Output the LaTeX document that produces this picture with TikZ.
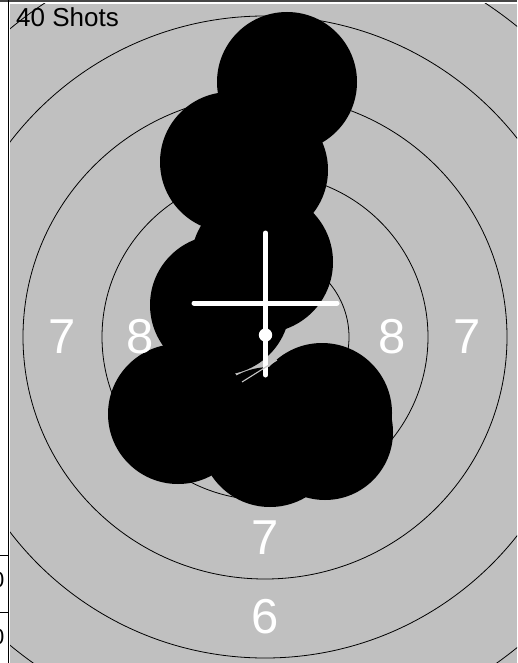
\documentclass[tikz,border=0pt]{standalone}
\usepackage{fontspec}
\setmainfont{Liberation Sans}
\definecolor{tgray}{RGB}{192,192,192}
\definecolor{topline}{RGB}{70,70,70}
\tikzset{
  ring/.style={draw=black,line width=0.8pt},
  shot/.style={fill=black},
  cross/.style={draw=white,line width=5pt,line cap=round},
  score/.style={text=white,font=\fontsize{49}{49}\selectfont,inner sep=0pt,anchor=center},
  axislbl/.style={text=black,font=\fontsize{22}{22}\selectfont,inner sep=0pt,anchor=east},
}
\begin{document}
\begin{tikzpicture}[x=1pt,y=-1pt]
\useasboundingbox (0,0) rectangle (517,663);
\fill[white] (0,0) rectangle (517,663);
\fill[tgray] (10,4) rectangle (517,663);
\draw[topline,line width=2pt] (0,1) -- (517,1);
\draw[black,line width=1.6pt] (8.3,0) -- (8.3,663);
\coordinate (t1a) at (0,555); \coordinate (t1b) at (8,555);
\coordinate (t2a) at (0,612); \coordinate (t2b) at (8,612);
\draw[black,line width=1pt] (t1a) -- (t1b);
\draw[black,line width=1pt] (t2a) -- (t2b);
\node[axislbl] (lbla) at (4.5,580) {0};
\node[axislbl] (lblb) at (4.5,637) {0};
\begin{scope}
\clip (10,4) rectangle (517,663);
\foreach \r in {84,163,242,321,400} \draw[ring] (265,337) circle[radius=\r];
\foreach \cx/\cy/\rr in {287/82/70, 230/162/70, 258/170/70, 262/262/71, 220/305/70, 178/414/70, 270/437/70, 322/413/70, 325/432/68}
  \fill[shot] (\cx,\cy) circle[radius=\rr];
\end{scope}
\draw[cross] (265.5,233) -- (265.5,375);
\draw[cross] (194,303) -- (337,303);
\draw[gray!45,line width=1.1pt] (242,382) -- (277,360);
\fill[white] (265.5,335) circle[radius=6.7];
\node[score] (l7) at (62,337) {7};
\node[score] (l8) at (140,337) {8};
\node[score] (r8) at (392,337) {8};
\node[score] (r7) at (467,337) {7};
\node[score] (b7) at (265,537.5) {7};
\node[score] (b6) at (265,616.5) {6};
\node[anchor=base west,inner sep=0pt,font=\fontsize{26}{26}\selectfont] (title) at (16,27) {40 Shots};
\end{tikzpicture}
\end{document}
